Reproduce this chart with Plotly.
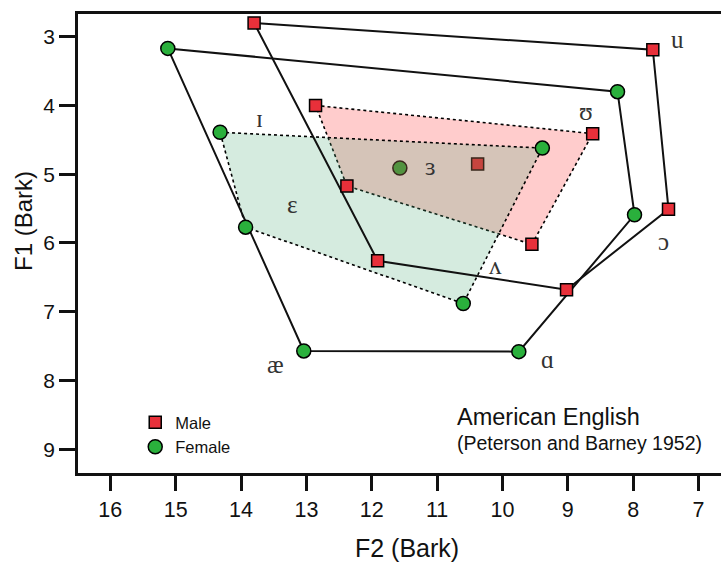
import plotly.graph_objects as go

# ---------------- data ----------------
vowels = ["i", "ɪ", "ɛ", "æ", "ɑ", "ɔ", "ʊ", "u", "ʌ", "ɝ"]
male_f2 = [13.80, 12.86, 12.38, 11.91, 9.02, 7.46, 8.62, 7.70, 9.55, 10.38]
male_f1 = [2.80, 4.00, 5.17, 6.26, 6.68, 5.51, 4.41, 3.19, 6.02, 4.85]
female_f2 = [15.12, 14.32, 13.93, 13.04, 9.75, 7.98, 9.39, 8.24, 10.60, 11.57]
female_f1 = [3.17, 4.39, 5.77, 7.57, 7.58, 5.59, 4.62, 3.80, 6.88, 4.91]

outer_order = ["i", "u", "ɔ", "ɑ", "æ", "i"]
inner_order = ["ɪ", "ʊ", "ʌ", "ɛ", "ɪ"]
center_vowel = "ɝ"

label_text = ["u", "ʊ", "ɪ", "ɛ", "ɜ", "ʌ", "ɔ", "æ", "ɑ"]
label_f2 = [7.33, 8.73, 13.72, 13.22, 11.10, 10.11, 7.54, 13.48, 9.31]
label_f1 = [3.09, 4.13, 4.23, 5.48, 4.93, 6.37, 6.02, 7.81, 7.74]

x_ticks = [16, 15, 14, 13, 12, 11, 10, 9, 8, 7]
y_ticks = [3, 4, 5, 6, 7, 8, 9]

# ---------------- styles ----------------
RED = "#E8303A"
GREEN = "#2AB03C"
SANS = "Arial, Liberation Sans, sans-serif"
SERIF = "Liberation Serif, DejaVu Serif, serif"


def pick(xs, ys, order):
    idx = [vowels.index(v) for v in order]
    return [xs[i] for i in idx], [ys[i] for i in idx]


fig = go.Figure()

# central vowel markers (drawn beneath the shaded areas)
ci = vowels.index(center_vowel)
fig.add_trace(go.Scatter(x=[male_f2[ci]], y=[male_f1[ci]], mode="markers", showlegend=False,
                         marker=dict(symbol="square", size=12, color=RED, line=dict(color="black", width=1.5))))
fig.add_trace(go.Scatter(x=[female_f2[ci]], y=[female_f1[ci]], mode="markers", showlegend=False,
                         marker=dict(symbol="circle", size=14, color=GREEN, line=dict(color="black", width=1.5))))

# shaded inner (lax) vowel areas
mx, my = pick(male_f2, male_f1, inner_order)
fig.add_trace(go.Scatter(x=mx, y=my, mode="lines", fill="toself", fillcolor="rgba(255,0,0,0.2)",
                         line=dict(color="black", width=1.6, dash="dot"), showlegend=False))
fx, fy = pick(female_f2, female_f1, inner_order)
fig.add_trace(go.Scatter(x=fx, y=fy, mode="lines", fill="toself", fillcolor="rgba(77,170,119,0.235)",
                         line=dict(color="black", width=1.6, dash="dot"), showlegend=False))

# outer vowel polygons
mx, my = pick(male_f2, male_f1, outer_order)
fig.add_trace(go.Scatter(x=mx, y=my, mode="lines", line=dict(color="#111", width=2), showlegend=False))
fx, fy = pick(female_f2, female_f1, outer_order)
fig.add_trace(go.Scatter(x=fx, y=fy, mode="lines", line=dict(color="#111", width=2), showlegend=False))

# markers
others = [v for v in vowels if v != center_vowel]
mx, my = pick(male_f2, male_f1, others)
fig.add_trace(go.Scatter(x=mx, y=my, mode="markers", name="Male",
                         marker=dict(symbol="square", size=12, color=RED, line=dict(color="black", width=1.5))))
fx, fy = pick(female_f2, female_f1, others)
fig.add_trace(go.Scatter(x=fx, y=fy, mode="markers", name="Female",
                         marker=dict(symbol="circle", size=14, color=GREEN, line=dict(color="black", width=1.5))))

annotations = []
for t, x, y in zip(label_text, label_f2, label_f1):
    annotations.append(dict(x=x, y=y, xref="x", yref="y", text=t, showarrow=False, yshift=3,
                            font=dict(family=SERIF, size=25, color="#333")))

annotations += [
    dict(x=0.586, y=0.123, xref="paper", yref="paper", xanchor="left", yanchor="middle",
         text="American English", showarrow=False, font=dict(family=SANS, size=23.5, color="#111")),
    dict(x=0.586, y=0.066, xref="paper", yref="paper", xanchor="left", yanchor="middle",
         text="(Peterson and Barney 1952)", showarrow=False, font=dict(family=SANS, size=19.5, color="#111")),
    dict(x=0.511, y=0, xref="paper", yref="paper", xanchor="center", yanchor="middle", yshift=-75,
         text="F2 (Bark)", showarrow=False, font=dict(family=SANS, size=25, color="#111")),
    dict(x=0, y=0.549, xref="paper", yref="paper", xanchor="center", yanchor="middle", xshift=-55,
         text="F1 (Bark)", textangle=-90, showarrow=False, font=dict(family=SANS, size=24, color="#111")),
]

fig.update_layout(
    width=721, height=564,
    margin=dict(l=78, r=0, t=14, b=91),
    paper_bgcolor="white", plot_bgcolor="white",
    showlegend=True,
    legend=dict(x=0.089, y=0.148, xanchor="left", yanchor="top", bgcolor="rgba(0,0,0,0)",
                font=dict(family=SANS, size=16.5, color="#111"), tracegroupgap=0),
    annotations=annotations,
    xaxis=dict(range=[16.494, 6.657], tickvals=x_ticks, ticktext=[str(v) for v in x_ticks],
               showgrid=False, zeroline=False, showline=True, linecolor="#111", linewidth=2.5,
               mirror=True, ticks="outside", ticklen=15, tickwidth=2.5, tickcolor="#111",
               tickfont=dict(family=SANS, size=21.5, color="#111")),
    yaxis=dict(range=[9.345, 2.670], tickvals=y_ticks, ticktext=[str(v) for v in y_ticks],
               showgrid=False, zeroline=False, showline=True, linecolor="#111", linewidth=2.5,
               mirror=False, ticks="outside", ticklen=16, tickwidth=2.5, tickcolor="#111",
               tickfont=dict(family=SANS, size=21, color="#111")),
)

fig.write_html("out.html")
